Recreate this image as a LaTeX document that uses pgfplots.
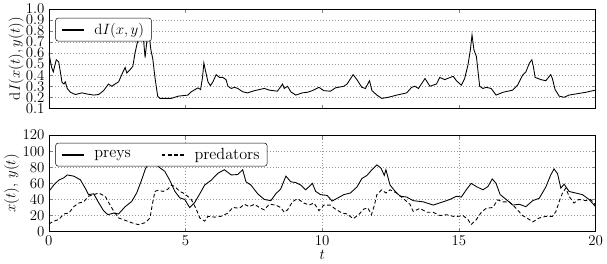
\documentclass[border=0pt]{standalone}
\usepackage{pgfplots}
\pgfplotsset{compat=1.18}
\pgfplotstableread{
t v
0 0.60
0.10 0.47
0.16 0.43
0.27 0.54
0.36 0.52
0.48 0.335
0.55 0.32
0.60 0.34
0.67 0.28
0.79 0.245
0.97 0.225
1.21 0.24
1.39 0.23
1.64 0.22
1.82 0.225
2.0 0.26
2.18 0.32
2.30 0.30
2.42 0.32
2.55 0.34
2.73 0.44
2.79 0.47
2.85 0.42
2.97 0.45
3.07 0.48
3.15 0.60
3.24 0.70
3.33 0.74
3.42 0.79
3.47 0.70
3.52 0.56
3.64 0.835
3.73 0.63
3.80 0.55
3.88 0.38
3.98 0.21
4.06 0.19
4.48 0.19
4.73 0.21
5.09 0.22
5.21 0.25
5.45 0.285
5.55 0.27
5.62 0.38
5.67 0.51
5.72 0.45
5.82 0.34
5.91 0.305
6.0 0.34
6.12 0.405
6.24 0.38
6.36 0.38
6.48 0.36
6.55 0.30
6.67 0.28
6.79 0.29
6.91 0.28
7.09 0.25
7.27 0.24
7.52 0.26
7.88 0.28
8.06 0.265
8.36 0.255
8.55 0.32
8.61 0.28
8.73 0.30
8.85 0.25
9.03 0.22
9.27 0.24
9.45 0.245
9.64 0.26
9.88 0.29
10.06 0.26
10.3 0.255
10.48 0.285
10.79 0.30
10.91 0.32
11.13 0.405
11.27 0.36
11.45 0.29
11.58 0.28
11.73 0.35
11.82 0.26
12.0 0.22
12.18 0.19
12.42 0.20
12.73 0.22
13.09 0.24
13.27 0.29
13.39 0.30
13.52 0.28
13.76 0.37
13.94 0.30
14.18 0.32
14.3 0.38
14.48 0.36
14.79 0.39
14.91 0.35
15.09 0.31
15.21 0.37
15.33 0.49
15.42 0.63
15.48 0.765
15.55 0.63
15.64 0.57
15.76 0.30
15.88 0.28
16.0 0.29
16.18 0.28
16.36 0.22
16.61 0.245
16.97 0.265
17.15 0.31
17.33 0.40
17.45 0.43
17.58 0.51
17.67 0.54
17.73 0.47
17.79 0.38
18.0 0.36
18.18 0.35
18.36 0.405
18.42 0.37
18.52 0.27
18.67 0.21
18.85 0.20
19.03 0.22
19.39 0.235
19.64 0.245
20.0 0.265
}\dI
\pgfplotstableread{
t x
0 50
0.18 58
0.36 64
0.55 67
0.67 70.5
0.91 69
1.15 64.5
1.33 54
1.45 46
1.64 47
1.82 36
2.0 26
2.16 21
2.36 23
2.55 22
2.79 31
3.03 37.5
3.21 48
3.39 64
3.52 77
3.64 85
3.8 90
4.0 81
4.24 75
4.42 64
4.61 50
4.79 42
4.97 40
5.15 30
5.33 36
5.52 47
5.7 58
5.94 64
6.18 72.5
6.42 77
6.67 70.5
6.91 71
7.09 77
7.21 62
7.39 58
7.64 47
7.88 40
8.12 38.5
8.3 47
8.48 53
8.67 69
8.85 62
9.03 61
9.21 58
9.39 52
9.52 56
9.64 60
9.76 50
9.94 46
10.18 45
10.36 38
10.55 41.5
10.79 46
11.03 48
11.27 55.5
11.45 66
11.64 70
11.82 77
12.0 83
12.15 79
12.27 70
12.33 77
12.48 58
12.67 50
12.85 44
13.09 43
13.33 38.5
13.7 37
14.06 33
14.42 37
14.67 40
14.91 44
15.09 43
15.27 52
15.45 60
15.64 56
15.88 52
16.06 56
16.22 65.5
16.36 60
16.51 46
16.73 40
16.97 33
17.21 34
17.45 31
17.7 38.5
17.94 41.5
18.18 55.5
18.36 70.5
18.48 78
18.61 72
18.73 54
18.85 59
19.03 50
19.27 48
19.52 46
19.76 40
20.0 31
}\preys
\pgfplotstableread{
t y
0 9.5
0.18 13
0.36 15
0.55 22
0.73 23
0.91 31
1.09 35.5
1.27 37
1.45 44
1.64 46
1.82 48
2.06 44
2.24 33
2.36 26
2.55 17
2.79 14
3.03 11
3.27 8.7
3.52 11
3.7 17
3.78 33
3.88 50
4.0 51.5
4.18 50
4.36 53
4.48 58
4.61 56
4.79 50
4.97 47
5.21 40
5.39 28
5.52 17
5.7 13
5.82 19
6.06 18
6.3 19
6.55 23
6.73 30
6.97 29
7.15 34
7.33 31
7.52 34
7.7 30
7.88 27
8.06 34
8.3 33
8.48 30
8.61 24
8.73 27
8.91 37
9.09 41
9.33 35.5
9.52 33
9.7 35.5
9.88 26
10.06 33
10.3 33
10.48 28
10.73 23
10.91 22
11.13 16
11.33 21
11.52 28
11.67 29.5
11.8 21
11.91 33
12.0 46
12.18 52
12.33 48
12.48 52
12.73 48
12.97 41
13.21 34
13.33 25
13.58 29
13.82 24
14.06 24
14.3 20
14.55 21
14.79 19
14.97 19
15.15 20
15.33 15
15.45 8.7
15.64 15
15.82 24
16.0 29
16.24 30
16.42 39.5
16.61 37
16.85 37
17.09 29
17.33 20
17.58 15
17.7 12
17.94 17
18.18 19
18.42 19
18.55 25
18.67 37.5
18.79 48
18.91 54
19.03 44
19.21 35.5
19.39 40
19.64 38.5
19.82 40
20.0 33
}\predators
\begin{document}
\begin{tikzpicture}
\pgfplotsset{
  every axis/.append style={
    scale only axis, width=440pt, xmin=0, xmax=20,
    xtick={0,5,...,20},
    tick label style={font=\fontsize{13}{15}\selectfont},
    label style={font=\large},
    major grid style={dotted, gray!80},
    major tick length=3pt,
    legend cell align=left,
    legend style={rounded corners=2pt, draw=black, font=\fontsize{13}{15}\selectfont,
      anchor=north west, inner xsep=4pt, inner ysep=2pt},
    legend image code/.code={\draw[#1, line width=1.6pt] (0pt,0pt) -- (18pt,0pt); \path (24pt,0pt);},
  },
}
\begin{axis}[name=top, at={(0,0)}, anchor=north west,
  height=80pt, ymin=0.1, ymax=1.0,
  ytick={0.1,0.2,...,1.0},
  yticklabel style={/pgf/number format/.cd, fixed, fixed zerofill, precision=1},
  xticklabels={}, ymajorgrids,
  ylabel={$\mathrm{d}I(x(t),y(t))$}, ylabel shift=-5pt,
  legend style={at={(0.012,0.91)}},
]
\addplot[black, line width=0.7pt] table[x=t, y=v] {\dI};
\addlegendentry{$\mathrm{d}I(x,y)$}
\end{axis}
\begin{axis}[name=bot, at={(0,-101.6pt)}, anchor=north west,
  height=77.6pt, ymin=0, ymax=120,
  ytick={0,20,...,120}, xmajorgrids, ymajorgrids,
  ylabel={$x(t)$, $y(t)$}, ylabel shift=-4pt,
  xlabel={$t$}, xlabel shift=-3pt,
  legend columns=2,
  legend style={at={(0.012,0.92)},
    /tikz/every even column/.append style={column sep=22pt}},
]
\addplot[black, line width=0.7pt] table[x=t, y=x] {\preys};
\addlegendentry{preys}
\addplot[black, line width=0.7pt, dash pattern=on 3pt off 2pt] table[x=t, y=y] {\predators};
\addlegendentry{predators}
\end{axis}
\end{tikzpicture}
\end{document}
